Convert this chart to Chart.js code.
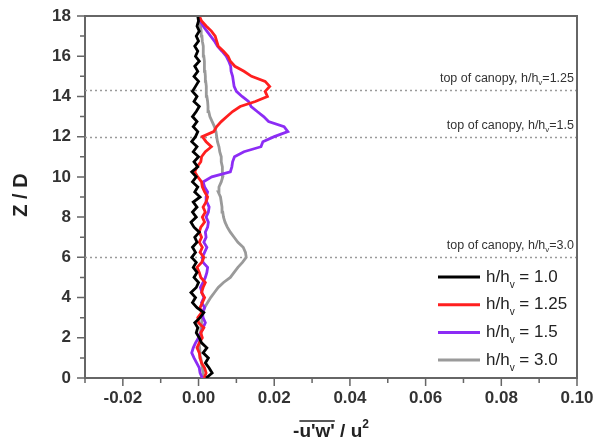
<!DOCTYPE html>
<html lang="en">
<head>
  <meta charset="UTF-8">
  <title>Shear stress profiles</title>
  <script src="https://cdn.jsdelivr.net/npm/chart.js"></script>
  <style>
    body { margin: 0; background: #fff; }
    .wrap { position: relative; width: 593px; height: 442px; }
  </style>
</head>
<body>
  <div class="wrap"><canvas id="stress" width="593" height="442"></canvas></div>

  <script>
    // Z / D positions shared by all profiles
    const zD = [
      0, 0.25, 0.5, 0.75, 1, 1.25, 1.5, 1.75,
      2, 2.25, 2.5, 2.75, 3, 3.25, 3.5, 3.75,
      4, 4.25, 4.5, 4.75, 5, 5.25, 5.5, 5.75,
      6, 6.25, 6.5, 6.75, 7, 7.25, 7.5, 7.75,
      8, 8.25, 8.5, 8.75, 9, 9.25, 9.5, 9.75,
      10, 10.25, 10.5, 10.75, 11, 11.25, 11.5, 11.75,
      12, 12.25, 12.5, 12.75, 13, 13.25, 13.5, 13.75,
      14, 14.25, 14.5, 14.75, 15, 15.25, 15.5, 15.75,
      16, 16.25, 16.5, 16.75, 17, 17.25, 17.5, 17.75,
      18
    ];

    // -u'w' / u^2 for each h/hv
    const uw10 = [
      0.0020, 0.0036, 0.0028, 0.0018, 0.0026, 0.0012, 0.0022, 0.0008,
      0.0002, -0.0006, -0.0002, -0.0010, 0.0004, 0.0014, -0.0004, -0.0016,
      -0.0008, -0.0020, -0.0006, 0.0000, -0.0012, -0.0004, -0.0014, -0.0006,
      -0.0018, -0.0008, -0.0016, -0.0004, -0.0010, 0.0002, -0.0012, -0.0020,
      -0.0006, -0.0016, -0.0004, -0.0014, 0.0004, -0.0010, -0.0002, -0.0016,
      -0.0006, -0.0018, -0.0002, -0.0012, 0.0000, -0.0014, -0.0004, -0.0018,
      -0.0008, -0.0002, -0.0014, -0.0004, -0.0016, -0.0006, 0.0002, -0.0012,
      -0.0004, -0.0016, -0.0008, 0.0000, -0.0012, -0.0002, -0.0010, 0.0002,
      -0.0008, -0.0002, -0.0010, 0.0000, -0.0006, 0.0002, -0.0004, 0.0000,
      -0.0002
    ];
    const uw125 = [
      0.0015, 0.0020, 0.0016, 0.0008, 0.0004, 0.0002, -0.0004, 0.0002,
      0.0010, 0.0006, 0.0014, 0.0000, -0.0002, 0.0008, 0.0004, 0.0010,
      0.0016, 0.0008, 0.0012, 0.0018, 0.0006, 0.0002, -0.0004, 0.0008,
      0.0014, 0.0004, 0.0010, 0.0002, 0.0008, 0.0002, 0.0006, 0.0016,
      0.0010, 0.0018, 0.0012, 0.0020, 0.0024, 0.0016, 0.0010, 0.0008,
      -0.0002, -0.0010, -0.0004, 0.0006, 0.0008, 0.0018, 0.0034, 0.0020,
      0.0010, 0.0040, 0.0048, 0.0060, 0.0075, 0.0090, 0.0110, 0.0150,
      0.0182, 0.0176, 0.0188, 0.0176, 0.0140, 0.0120, 0.0096, 0.0084,
      0.0078, 0.0066, 0.0052, 0.0048, 0.0044, 0.0034, 0.0020, 0.0008,
      0.0002
    ];
    const uw15 = [
      0.0010, 0.0004, 0.0002, -0.0005, -0.0012, -0.0018, -0.0014, -0.0008,
      0.0000, 0.0006, 0.0012, 0.0018, 0.0012, 0.0010, 0.0016, 0.0008,
      0.0014, 0.0009, 0.0005, 0.0012, 0.0018, 0.0022, 0.0024, 0.0012,
      0.0010, 0.0016, 0.0022, 0.0014, 0.0020, 0.0018, 0.0024, 0.0026,
      0.0020, 0.0026, 0.0028, 0.0022, 0.0020, 0.0024, 0.0016, 0.0012,
      0.0035, 0.0084, 0.0088, 0.0090, 0.0095, 0.0120, 0.0165, 0.0170,
      0.0200, 0.0236, 0.0226, 0.0185, 0.0172, 0.0155, 0.0139, 0.0132,
      0.0115, 0.0100, 0.0094, 0.0092, 0.0090, 0.0086, 0.0085, 0.0080,
      0.0073, 0.0062, 0.0050, 0.0042, 0.0032, 0.0022, 0.0012, 0.0005,
      0.0002
    ];
    const uw30 = [
      0.0010, 0.0012, 0.0010, 0.0008, 0.0006, 0.0004, 0.0003, 0.0002,
      0.0002, 0.0004, 0.0006, 0.0008, 0.0010, 0.0012, 0.0016, 0.0024,
      0.0032, 0.0042, 0.0052, 0.0066, 0.0084, 0.0094, 0.0104, 0.0116,
      0.0126, 0.0124, 0.0118, 0.0104, 0.0094, 0.0084, 0.0076, 0.0070,
      0.0066, 0.0064, 0.0062, 0.0060, 0.0058, 0.0052, 0.0054, 0.0060,
      0.0064, 0.0064, 0.0062, 0.0060, 0.0060, 0.0056, 0.0054, 0.0050,
      0.0048, 0.0046, 0.0042, 0.0036, 0.0030, 0.0027, 0.0025, 0.0024,
      0.0022, 0.0021, 0.0020, 0.0019, 0.0018, 0.0017, 0.0016, 0.0015,
      0.0014, 0.0013, 0.0012, 0.0010, 0.0009, 0.0007, 0.0005, 0.0003,
      0.0002
    ];

    const ratioLabels = ['1.0', '1.25', '1.5', '3.0'];
    const lineColors = ['#000000', '#ff1f1f', '#8c2cf5', '#9a9a9a'];

    // top-of-canopy heights and their h/hv
    const canopyTops = [14.33, 12, 6];
    const canopyRatios = ['1.25', '1.5', '3.0'];

    const FONT = 'Arial, "Liberation Sans", sans-serif';

    const toPoints = vals => zD.map((z, i) => ({ x: vals[i], y: z }));

    // draws text pieces left to right, returns total width
    function drawParts(ctx, x, y, parts, measureOnly) {
      let cx = x;
      parts.forEach(p => {
        ctx.font = p.font;
        if (!measureOnly) ctx.fillText(p.t, cx, y + (p.dy || 0));
        cx += ctx.measureText(p.t).width;
      });
      return cx - x;
    }

    const decorations = {
      id: 'decorations',
      beforeDatasetsDraw(chart) {
        const { ctx, chartArea, scales } = chart;
        ctx.save();
        ctx.strokeStyle = '#9a9a9a';
        ctx.lineWidth = 1.5;
        ctx.setLineDash([2, 3]);
        canopyTops.forEach(v => {
          const y = Math.round(scales.y.getPixelForValue(v)) + 0.5;
          ctx.beginPath();
          ctx.moveTo(chartArea.left, y);
          ctx.lineTo(chartArea.right, y);
          ctx.stroke();
        });
        ctx.restore();
      },
      afterDraw(chart) {
        const { ctx, chartArea, scales } = chart;
        const { left, right, top, bottom } = chartArea;
        ctx.save();

        // frame top/right
        ctx.strokeStyle = '#666';
        ctx.lineWidth = 2;
        ctx.beginPath();
        ctx.moveTo(left - 1, top);
        ctx.lineTo(right, top);
        ctx.lineTo(right, bottom + 1);
        ctx.stroke();

        // tick marks, long at labelled values
        ctx.lineWidth = 1.5;
        ctx.beginPath();
        scales.y.ticks.forEach(t => {
          const y = scales.y.getPixelForValue(t.value);
          const len = Math.round(t.value) % 2 === 0 ? 7 : 4;
          ctx.moveTo(left - len - 1, y);
          ctx.lineTo(left, y);
        });
        scales.x.ticks.forEach(t => {
          const x = scales.x.getPixelForValue(t.value);
          const len = Math.round(t.value * 100) % 2 === 0 ? 7 : 4;
          ctx.moveTo(x, bottom);
          ctx.lineTo(x, bottom + len + 1);
        });
        ctx.stroke();

        // canopy annotations
        ctx.fillStyle = '#333';
        ctx.textAlign = 'left';
        ctx.textBaseline = 'alphabetic';
        canopyTops.forEach((v, i) => {
          const parts = [
            { t: 'top of canopy, h/h', font: '12.5px ' + FONT },
            { t: 'v', font: '8px ' + FONT, dy: 3 },
            { t: '=' + canopyRatios[i], font: '12.5px ' + FONT }
          ];
          const w = drawParts(ctx, 0, 0, parts, true);
          const y = scales.y.getPixelForValue(v) - 8;
          drawParts(ctx, right - 3 - w, y, parts);
        });

        // legend
        ctx.textBaseline = 'middle';
        ratioLabels.forEach((lab, i) => {
          const y = bottom - 101 + i * 27.7;
          ctx.strokeStyle = lineColors[i];
          ctx.lineWidth = 3;
          ctx.beginPath();
          ctx.moveTo(438, y);
          ctx.lineTo(480, y);
          ctx.stroke();
          ctx.fillStyle = '#222';
          drawParts(ctx, 486, y, [
            { t: 'h/h', font: '17px ' + FONT },
            { t: 'v', font: '10px ' + FONT, dy: 8 },
            { t: ' = ' + lab, font: '17px ' + FONT }
          ]);
        });

        // x title with overline and superscript
        ctx.fillStyle = '#222';
        ctx.strokeStyle = '#222';
        ctx.textBaseline = 'alphabetic';
        const bold = 'bold 19px ' + FONT;
        const xParts = [
          { t: '-', font: bold },
          { t: "u'w'", font: bold },
          { t: ' / u', font: bold },
          { t: '2', font: 'bold 12px ' + FONT, dy: -9 }
        ];
        const tw = drawParts(ctx, 0, 0, xParts, true);
        const tx = (left + right) / 2 - tw / 2;
        const ty = 437;
        drawParts(ctx, tx, ty, xParts);
        ctx.font = bold;
        const ox = tx + ctx.measureText('-').width;
        const ow = ctx.measureText("u'w'").width;
        ctx.lineWidth = 1.5;
        ctx.beginPath();
        ctx.moveTo(ox, ty - 16);
        ctx.lineTo(ox + ow, ty - 16);
        ctx.stroke();

        // y title
        ctx.translate(21, 195);
        ctx.rotate(-Math.PI / 2);
        ctx.textAlign = 'center';
        ctx.textBaseline = 'middle';
        ctx.font = 'bold 20px ' + FONT;
        ctx.fillText('Z / D', 0, 0);

        ctx.restore();
      }
    };

    const profiles = [uw10, uw125, uw15, uw30];

    new Chart(document.getElementById('stress'), {
      type: 'scatter',
      data: {
        datasets: profiles.map((vals, i) => ({
          label: 'h/hv = ' + ratioLabels[i],
          data: toPoints(vals),
          showLine: true,
          borderColor: lineColors[i],
          backgroundColor: lineColors[i],
          borderWidth: 2.8,
          pointRadius: 0,
          tension: 0
        }))
      },
      options: {
        responsive: false,
        animation: false,
        devicePixelRatio: 1,
        layout: { padding: { top: 16, right: 16, left: 0, bottom: 0 } },
        plugins: {
          legend: { display: false },
          tooltip: { enabled: false }
        },
        scales: {
          x: {
            type: 'linear',
            min: -0.03,
            max: 0.10,
            afterFit: s => { s.height = 64; s.paddingLeft = 0; s.paddingRight = 0; },
            ticks: {
              stepSize: 0.01,
              autoSkip: false,
              maxRotation: 0,
              padding: 2,
              color: '#333',
              font: { family: FONT, size: 17, weight: 'bold' },
              callback: v => {
                const r = Math.round(v * 100);
                return r % 2 === 0 ? (r / 100).toFixed(2) : '';
              }
            },
            grid: { display: false },
            border: { display: true, color: '#666', width: 2 }
          },
          y: {
            type: 'linear',
            min: 0,
            max: 18,
            afterFit: s => { s.width = 85; s.paddingTop = 0; s.paddingBottom = 0; },
            ticks: {
              stepSize: 1,
              autoSkip: false,
              padding: 6,
              color: '#333',
              font: { family: FONT, size: 17, weight: 'bold' },
              callback: v => (Math.round(v) % 2 === 0 ? String(v) : '')
            },
            grid: { display: false },
            border: { display: true, color: '#666', width: 2 }
          }
        }
      },
      plugins: [decorations]
    });
  </script>
</body>
</html>
